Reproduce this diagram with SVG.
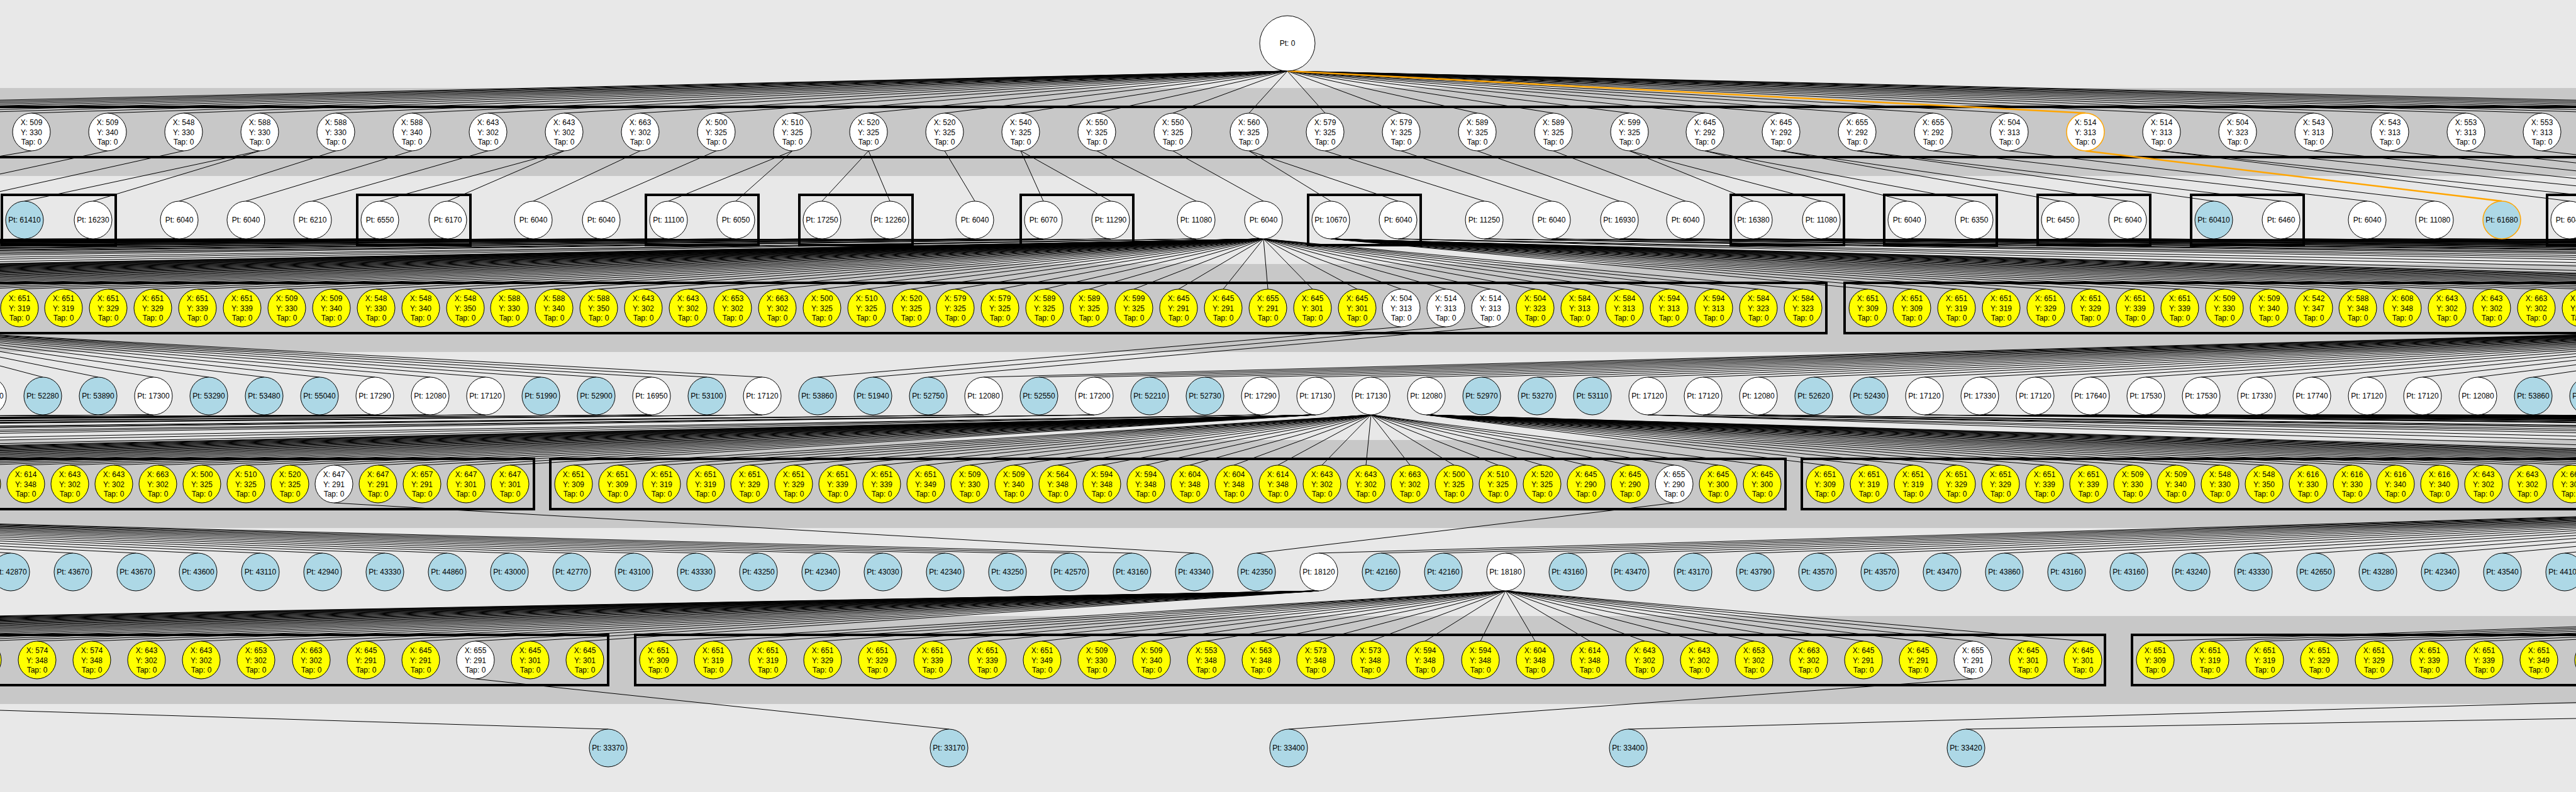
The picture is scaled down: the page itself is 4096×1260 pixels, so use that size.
<svg xmlns="http://www.w3.org/2000/svg" width="4096" height="1260" viewBox="0 0 4096 1260">
<style>
text{font-family:"Liberation Sans",Arial,sans-serif;font-size:12px;text-anchor:middle;fill:#000}
circle{stroke:#000;stroke-width:1}
.w circle{fill:#fff}.y circle{fill:#ff0}.b circle{fill:#add8e6}
.o circle{stroke:#ffa500;stroke-width:1.5}
#edges path{fill:none;stroke:#000;stroke-width:1}
#edges path.or{stroke:#ffa500;stroke-width:2.5}
#clusters rect{fill:none;stroke:#000;stroke-width:4}
.band{fill:#c8c8c8}
</style>
<rect id="bg" x="0" y="0" width="4096" height="1260" fill="#e8e8e8"/>
<g id="bands">
<rect class="band" x="0" y="140" width="4096" height="140"/>
<rect class="band" x="0" y="420" width="4096" height="140"/>
<rect class="band" x="0" y="700" width="4096" height="140"/>
<rect class="band" x="0" y="980" width="4096" height="140"/>
</g>
<g id="clusters">
<rect x="-1000" y="170" width="6200" height="80"/>
<rect x="3" y="310" width="181" height="80"/>
<rect x="568" y="310" width="180" height="80"/>
<rect x="1027" y="310" width="179" height="80"/>
<rect x="1271" y="310" width="180" height="80"/>
<rect x="1623" y="310" width="179" height="80"/>
<rect x="2080" y="310" width="179" height="80"/>
<rect x="2752" y="310" width="180" height="80"/>
<rect x="2996" y="310" width="179" height="80"/>
<rect x="3240" y="310" width="179" height="80"/>
<rect x="3484" y="310" width="179" height="80"/>
<rect x="4050" y="310" width="180" height="80"/>
<rect x="-2140" y="450" width="5044" height="80"/>
<rect x="2933" y="450" width="2130" height="80"/>
<rect x="-1400" y="730" width="2249" height="80"/>
<rect x="875" y="730" width="1964" height="80"/>
<rect x="2865" y="730" width="2170" height="80"/>
<rect x="-2160" y="1010" width="3127" height="80"/>
<rect x="1010" y="1010" width="2337" height="80"/>
<rect x="3390" y="1010" width="1800" height="80"/>
</g>
<g id="edges">
<path d="M2047 113L-917 180M2047 113L-796 180M2047 113L-675 180M2047 113L-554 180M2047 113L-433 180M2047 113L-312 180M2047 113L-191 180M2047 113L-71 180M2047 113L50 180M2047 113L171 180M2047 113L292 180M2047 113L413 180M2047 113L534 180M2047 113L655 180M2047 113L776 180M2047 113L897 180M2047 113L1018 180M2047 113L1139 180M2047 113L1260 180M2047 113L1381 180M2047 113L1502 180M2047 113L1623 180M2047 113L1744 180M2047 113L1865 180M2047 113L1986 180M2047 113L2107 180M2047 113L2228 180M2047 113L2349 180M2047 113L2470 180M2047 113L2591 180M2047 113L2711 180M2047 113L2832 180M2047 113L2953 180M2047 113L3074 180M2047 113L3195 180M2047 113L3437 180M2047 113L3558 180M2047 113L3679 180M2047 113L3800 180M2047 113L3921 180M2047 113L4042 180M2047 113L4163 180M2047 113L4284 180M2047 113L4405 180M2047 113L4526 180M2047 113L4647 180M2047 113L4768 180M2047 113L4889 180M2047 113L5010 180"/>
<path d="M50 240L-420 320M171 240L-200 320M292 240L-69 320M413 240L39 320M413 240L148 320M534 240L285 320M655 240L391 320M776 240L497 320M897 240L604 320M897 240L712 320M1018 240L848 320M1139 240L956 320M1260 240L1063 320M1260 240L1170 320M1381 240L1307 320M1381 240L1415 320M1502 240L1550 320M1623 240L1659 320M1623 240L1766 320M1744 240L1902 320M1865 240L2009 320M1986 240L2116 320M1986 240L2223 320M2107 240L2360 320M2228 240L2467 320M2349 240L2575 320M2470 240L2680 320M2591 240L2788 320M2591 240L2896 320M2711 240L3032 320M2711 240L3139 320M2832 240L3276 320M2832 240L3383 320M2953 240L3520 320M2953 240L3627 320M3074 240L3764 320M3195 240L3871 320M3437 240L4086 320M3437 240L4194 320M3558 240L4331 320M3679 240L4437 320M3800 240L4545 320M3921 240L4652 320M4042 240L4760 320"/>
<path class="or" d="M2047 113L3316 180M3316 240L3978 320"/>
<path d="M2009 380L-2097 460M2009 380L-2026 460M2009 380L-1955 460M2009 380L-1884 460M2009 380L-1813 460M2009 380L-1742 460M2009 380L-1671 460M2009 380L-1600 460M2009 380L-1529 460M2009 380L-1459 460M2009 380L-1388 460M2009 380L-1317 460M2009 380L-1246 460M2009 380L-1175 460M2009 380L-1104 460M2009 380L-1033 460M2009 380L-962 460M2009 380L-891 460M2009 380L-820 460M2009 380L-749 460M2009 380L-679 460M2009 380L-608 460M2009 380L-537 460M2009 380L-466 460M2009 380L-395 460M2009 380L-324 460M2009 380L-253 460M2009 380L-182 460M2009 380L-111 460M2009 380L-40 460M2009 380L31 460M2009 380L101 460M2009 380L172 460M2009 380L243 460M2009 380L314 460M2009 380L385 460M2009 380L456 460M2009 380L527 460M2009 380L598 460M2009 380L669 460M2009 380L740 460M2009 380L810 460M2009 380L881 460M2009 380L952 460M2009 380L1023 460M2009 380L1094 460M2009 380L1165 460M2009 380L1236 460M2009 380L1307 460M2009 380L1378 460M2009 380L1449 460M2009 380L1519 460M2009 380L1590 460M2009 380L1661 460M2009 380L1732 460M2009 380L1803 460M2009 380L1874 460M2009 380L1945 460M2009 380L2016 460M2009 380L2087 460M2009 380L2158 460M2009 380L2228 460M2009 380L2299 460M2009 380L2370 460M2009 380L2441 460M2009 380L2512 460M2009 380L2583 460M2009 380L2654 460M2009 380L2725 460M2009 380L2796 460M2009 380L2867 460"/>
<path d="M2116 380L2970 460M2116 380L3040 460M2116 380L3111 460M2116 380L3182 460M2116 380L3253 460M2116 380L3324 460M2116 380L3395 460M2116 380L3466 460M2116 380L3537 460M2116 380L3608 460M2116 380L3679 460M2116 380L3749 460M2116 380L3820 460M2116 380L3891 460M2116 380L3962 460M2116 380L4033 460M2116 380L4104 460M2116 380L4175 460M2116 380L4246 460M2116 380L4317 460M2116 380L4387 460M2116 380L4458 460M2116 380L4529 460M2116 380L4600 460M2116 380L4671 460M2116 380L4742 460M2116 380L4813 460M2116 380L4884 460M2116 380L4955 460M2116 380L5025 460"/>
<path d="M1902 380L-2300 460M1902 380L-2800 460M1902 380L-3300 460M1766 380L-3700 460M1766 380L-4200 460M1766 380L-4700 460M1659 380L-5100 460M1659 380L-5600 460M1659 380L-6100 460M1550 380L-6500 460M1550 380L-7000 460M1550 380L-7500 460M1415 380L-7900 460M1415 380L-8400 460M1415 380L-8900 460M1307 380L-9300 460M1307 380L-9800 460M1307 380L-10300 460M1170 380L-10700 460M1170 380L-11200 460M1170 380L-11700 460M1063 380L-12100 460M1063 380L-12600 460M1063 380L-13100 460M956 380L-13500 460M956 380L-14000 460M956 380L-14500 460M848 380L-14900 460M848 380L-15400 460M848 380L-15900 460M712 380L-16300 460M712 380L-16800 460M712 380L-17300 460M604 380L-17700 460M604 380L-18200 460M604 380L-18700 460M497 380L-19100 460M497 380L-19600 460M497 380L-20100 460M391 380L-20500 460M391 380L-21000 460M391 380L-21500 460M285 380L-21900 460M285 380L-22400 460M285 380L-22900 460M148 380L-23300 460M148 380L-23800 460M148 380L-24300 460"/>
<path d="M2223 380L5200 460M2223 380L5700 460M2223 380L6200 460M2360 380L6600 460M2360 380L7100 460M2360 380L7600 460M2467 380L8000 460M2467 380L8500 460M2467 380L9000 460M2575 380L9400 460M2575 380L9900 460M2575 380L10400 460M2680 380L10800 460M2680 380L11300 460M2680 380L11800 460M2788 380L12200 460M2788 380L12700 460M2788 380L13200 460M2896 380L13600 460M2896 380L14100 460M2896 380L14600 460M3032 380L15000 460M3032 380L15500 460M3032 380L16000 460M3139 380L16400 460M3139 380L16900 460M3139 380L17400 460M3276 380L17800 460M3276 380L18300 460M3276 380L18800 460M3383 380L19200 460M3383 380L19700 460M3383 380L20200 460M3627 380L20600 460M3627 380L21100 460M3627 380L21600 460M3764 380L22000 460M3764 380L22500 460M3764 380L23000 460M3871 380L23400 460M3871 380L23900 460M3871 380L24400 460M4086 380L24800 460M4086 380L25300 460M4086 380L25800 460"/>
<path d="M-235 520L-20 600M-235 520L68 600M-235 520L156 600M-235 520L244 600M-235 520L332 600M-235 520L420 600M-235 520L508 600M-235 520L596 600M-235 520L684 600M-235 520L772 600M-235 520L860 600M-235 520L948 600M-235 520L1036 600M-235 520L1124 600M-235 520L1212 600M2228 520L1300 600M2299 520L1388 600M2370 520L1476 600"/>
<path d="M4575 520L1564 600M4575 520L1652 600M4575 520L1740 600M4575 520L1828 600M4575 520L1916 600M4575 520L2004 600M4575 520L2092 600M4575 520L2180 600M4575 520L2268 600M4575 520L2356 600M4575 520L2444 600M4575 520L2532 600M4575 520L2620 600M4575 520L2708 600M4575 520L2796 600M4575 520L2884 600M4575 520L2972 600M4575 520L3060 600M4575 520L3148 600M4575 520L3236 600M4575 520L3324 600M4575 520L3412 600M4575 520L3500 600M4575 520L3588 600M4575 520L3676 600M4575 520L3764 600M4575 520L3852 600M4575 520L3940 600M4575 520L4028 600M4575 520L4116 600"/>
<path d="M2092 660L-1359 740M2092 660L-1289 740M2092 660L-1219 740M2092 660L-1149 740M2092 660L-1079 740M2092 660L-1009 740M2092 660L-939 740M2092 660L-869 740M2092 660L-799 740M2092 660L-729 740M2092 660L-659 740M2092 660L-589 740M2092 660L-519 740M2092 660L-449 740M2092 660L-379 740M2092 660L-309 740M2092 660L-239 740M2092 660L-169 740M2092 660L-99 740M2092 660L-29 740M2092 660L41 740M2092 660L111 740M2092 660L181 740M2092 660L251 740M2092 660L321 740M2092 660L391 740M2092 660L461 740M2092 660L531 740M2092 660L601 740M2092 660L671 740M2092 660L741 740M2092 660L811 740"/>
<path d="M2180 660L912 740M2180 660L982 740M2180 660L1052 740M2180 660L1122 740M2180 660L1192 740M2180 660L1262 740M2180 660L1332 740M2180 660L1402 740M2180 660L1472 740M2180 660L1542 740M2180 660L1612 740M2180 660L1682 740M2180 660L1752 740M2180 660L1822 740M2180 660L1892 740M2180 660L1962 740M2180 660L2032 740M2180 660L2102 740M2180 660L2172 740M2180 660L2242 740M2180 660L2312 740M2180 660L2382 740M2180 660L2452 740M2180 660L2522 740M2180 660L2592 740M2180 660L2662 740M2180 660L2732 740M2180 660L2802 740"/>
<path d="M2268 660L2902 740M2268 660L2972 740M2268 660L3042 740M2268 660L3111 740M2268 660L3181 740M2268 660L3251 740M2268 660L3321 740M2268 660L3391 740M2268 660L3460 740M2268 660L3530 740M2268 660L3600 740M2268 660L3670 740M2268 660L3740 740M2268 660L3809 740M2268 660L3879 740M2268 660L3949 740M2268 660L4019 740M2268 660L4089 740M2268 660L4158 740M2268 660L4228 740M2268 660L4298 740M2268 660L4368 740M2268 660L4438 740M2268 660L4507 740M2268 660L4577 740M2268 660L4647 740M2268 660L4717 740M2268 660L4787 740M2268 660L4856 740M2268 660L4926 740M2268 660L4996 740"/>
<path d="M2004 660L-1500 740M2004 660L-2000 740M2004 660L-2500 740M1740 660L-3000 740M1740 660L-3500 740M1740 660L-4000 740M1564 660L-4500 740M1564 660L-5000 740M1564 660L-5500 740M1212 660L-6000 740M1212 660L-6500 740M1212 660L-7000 740M1036 660L-7500 740M1036 660L-8000 740M1036 660L-8500 740M772 660L-9000 740M772 660L-9500 740M772 660L-10000 740M684 660L-10500 740M684 660L-11000 740M684 660L-11500 740M596 660L-12000 740M596 660L-12500 740M596 660L-13000 740M244 660L-13500 740M244 660L-14000 740M244 660L-14500 740"/>
<path d="M2620 660L5100 740M2620 660L5600 740M2620 660L6100 740M2708 660L6600 740M2708 660L7100 740M2708 660L7600 740M2796 660L8100 740M2796 660L8600 740M2796 660L9100 740M3060 660L9600 740M3060 660L10100 740M3060 660L10600 740M3148 660L11100 740M3148 660L11600 740M3148 660L12100 740M3236 660L12600 740M3236 660L13100 740M3236 660L13600 740M3324 660L14100 740M3324 660L14600 740M3324 660L15100 740M3412 660L15600 740M3412 660L16100 740M3412 660L16600 740M3500 660L17100 740M3500 660L17600 740M3500 660L18100 740M3588 660L18600 740M3588 660L19100 740M3588 660L19600 740M3676 660L20100 740M3676 660L20600 740M3676 660L21100 740M3764 660L21600 740M3764 660L22100 740M3764 660L22600 740M3852 660L23100 740M3852 660L23600 740M3852 660L24100 740M3940 660L24600 740M3940 660L25100 740M3940 660L25600 740"/>
<path d="M-1300 800L17 880M-1300 800L116 880M-1300 800L216 880M-1300 800L315 880M-1300 800L414 880M-1300 800L513 880M-1300 800L612 880M-1300 800L711 880M-1300 800L810 880M-1300 800L909 880M-1300 800L1008 880M-1300 800L1107 880M-1300 800L1206 880M-1300 800L1305 880M-1300 800L1404 880M-1300 800L1503 880M-1300 800L1602 880M-1300 800L1701 880M-1300 800L1800 880M531 800L1899 880M2662 800L1998 880"/>
<path d="M4854 800L2097 880M4854 800L2196 880M4854 800L2295 880M4854 800L2394 880M4854 800L2493 880M4854 800L2592 880M4854 800L2692 880M4854 800L2791 880M4854 800L2890 880M4854 800L2989 880M4854 800L3088 880M4854 800L3187 880M4854 800L3286 880M4854 800L3385 880M4854 800L3484 880M4854 800L3583 880M4854 800L3682 880M4854 800L3781 880M4854 800L3880 880M4854 800L3979 880M4854 800L4078 880"/>
<path d="M2097 940L-2118 1020M2097 940L-2031 1020M2097 940L-1944 1020M2097 940L-1857 1020M2097 940L-1770 1020M2097 940L-1683 1020M2097 940L-1596 1020M2097 940L-1509 1020M2097 940L-1422 1020M2097 940L-1335 1020M2097 940L-1248 1020M2097 940L-1160 1020M2097 940L-1073 1020M2097 940L-986 1020M2097 940L-899 1020M2097 940L-812 1020M2097 940L-725 1020M2097 940L-638 1020M2097 940L-551 1020M2097 940L-464 1020M2097 940L-377 1020M2097 940L-289 1020M2097 940L-202 1020M2097 940L-115 1020M2097 940L-28 1020M2097 940L59 1020M2097 940L146 1020M2097 940L233 1020M2097 940L320 1020M2097 940L407 1020M2097 940L495 1020M2097 940L582 1020M2097 940L669 1020M2097 940L756 1020M2097 940L843 1020M2097 940L930 1020"/>
<path d="M2394 940L1047 1020M2394 940L1134 1020M2394 940L1221 1020M2394 940L1308 1020M2394 940L1395 1020M2394 940L1483 1020M2394 940L1570 1020M2394 940L1657 1020M2394 940L1744 1020M2394 940L1831 1020M2394 940L1918 1020M2394 940L2005 1020M2394 940L2092 1020M2394 940L2179 1020M2394 940L2266 1020M2394 940L2354 1020M2394 940L2441 1020M2394 940L2528 1020M2394 940L2615 1020M2394 940L2702 1020M2394 940L2789 1020M2394 940L2876 1020M2394 940L2963 1020M2394 940L3050 1020M2394 940L3137 1020M2394 940L3225 1020M2394 940L3312 1020"/>
<path d="M5760 940L3427 1020M5760 940L3514 1020M5760 940L3601 1020M5760 940L3688 1020M5760 940L3775 1020M5760 940L3863 1020M5760 940L3950 1020M5760 940L4037 1020M5760 940L4124 1020"/>
<path d="M-1613 1080L967 1160M756 1080L1509 1160M3137 1080L2049 1160M5440 1080L2589 1160M7700 1080L3126 1160"/>
</g>
<g id="nodes">
<g id="root" class="w" transform="translate(2047 69)"><circle r="44"/><text y="4.3">Pt: 0</text></g>
<g id="r1-0" class="w" transform="translate(50 210)"><circle r="30"/><text y="-11">X: 509</text><text y="4.5">Y: 330</text><text y="20">Tap: 0</text></g>
<g id="r1-1" class="w" transform="translate(171 210)"><circle r="30"/><text y="-11">X: 509</text><text y="4.5">Y: 340</text><text y="20">Tap: 0</text></g>
<g id="r1-2" class="w" transform="translate(292 210)"><circle r="30"/><text y="-11">X: 548</text><text y="4.5">Y: 330</text><text y="20">Tap: 0</text></g>
<g id="r1-3" class="w" transform="translate(413 210)"><circle r="30"/><text y="-11">X: 588</text><text y="4.5">Y: 330</text><text y="20">Tap: 0</text></g>
<g id="r1-4" class="w" transform="translate(534 210)"><circle r="30"/><text y="-11">X: 588</text><text y="4.5">Y: 330</text><text y="20">Tap: 0</text></g>
<g id="r1-5" class="w" transform="translate(655 210)"><circle r="30"/><text y="-11">X: 588</text><text y="4.5">Y: 340</text><text y="20">Tap: 0</text></g>
<g id="r1-6" class="w" transform="translate(776 210)"><circle r="30"/><text y="-11">X: 643</text><text y="4.5">Y: 302</text><text y="20">Tap: 0</text></g>
<g id="r1-7" class="w" transform="translate(897 210)"><circle r="30"/><text y="-11">X: 643</text><text y="4.5">Y: 302</text><text y="20">Tap: 0</text></g>
<g id="r1-8" class="w" transform="translate(1018 210)"><circle r="30"/><text y="-11">X: 663</text><text y="4.5">Y: 302</text><text y="20">Tap: 0</text></g>
<g id="r1-9" class="w" transform="translate(1139 210)"><circle r="30"/><text y="-11">X: 500</text><text y="4.5">Y: 325</text><text y="20">Tap: 0</text></g>
<g id="r1-10" class="w" transform="translate(1260 210)"><circle r="30"/><text y="-11">X: 510</text><text y="4.5">Y: 325</text><text y="20">Tap: 0</text></g>
<g id="r1-11" class="w" transform="translate(1381 210)"><circle r="30"/><text y="-11">X: 520</text><text y="4.5">Y: 325</text><text y="20">Tap: 0</text></g>
<g id="r1-12" class="w" transform="translate(1502 210)"><circle r="30"/><text y="-11">X: 520</text><text y="4.5">Y: 325</text><text y="20">Tap: 0</text></g>
<g id="r1-13" class="w" transform="translate(1623 210)"><circle r="30"/><text y="-11">X: 540</text><text y="4.5">Y: 325</text><text y="20">Tap: 0</text></g>
<g id="r1-14" class="w" transform="translate(1744 210)"><circle r="30"/><text y="-11">X: 550</text><text y="4.5">Y: 325</text><text y="20">Tap: 0</text></g>
<g id="r1-15" class="w" transform="translate(1865 210)"><circle r="30"/><text y="-11">X: 550</text><text y="4.5">Y: 325</text><text y="20">Tap: 0</text></g>
<g id="r1-16" class="w" transform="translate(1986 210)"><circle r="30"/><text y="-11">X: 560</text><text y="4.5">Y: 325</text><text y="20">Tap: 0</text></g>
<g id="r1-17" class="w" transform="translate(2107 210)"><circle r="30"/><text y="-11">X: 579</text><text y="4.5">Y: 325</text><text y="20">Tap: 0</text></g>
<g id="r1-18" class="w" transform="translate(2228 210)"><circle r="30"/><text y="-11">X: 579</text><text y="4.5">Y: 325</text><text y="20">Tap: 0</text></g>
<g id="r1-19" class="w" transform="translate(2349 210)"><circle r="30"/><text y="-11">X: 589</text><text y="4.5">Y: 325</text><text y="20">Tap: 0</text></g>
<g id="r1-20" class="w" transform="translate(2470 210)"><circle r="30"/><text y="-11">X: 589</text><text y="4.5">Y: 325</text><text y="20">Tap: 0</text></g>
<g id="r1-21" class="w" transform="translate(2591 210)"><circle r="30"/><text y="-11">X: 599</text><text y="4.5">Y: 325</text><text y="20">Tap: 0</text></g>
<g id="r1-22" class="w" transform="translate(2711 210)"><circle r="30"/><text y="-11">X: 645</text><text y="4.5">Y: 292</text><text y="20">Tap: 0</text></g>
<g id="r1-23" class="w" transform="translate(2832 210)"><circle r="30"/><text y="-11">X: 645</text><text y="4.5">Y: 292</text><text y="20">Tap: 0</text></g>
<g id="r1-24" class="w" transform="translate(2953 210)"><circle r="30"/><text y="-11">X: 655</text><text y="4.5">Y: 292</text><text y="20">Tap: 0</text></g>
<g id="r1-25" class="w" transform="translate(3074 210)"><circle r="30"/><text y="-11">X: 655</text><text y="4.5">Y: 292</text><text y="20">Tap: 0</text></g>
<g id="r1-26" class="w" transform="translate(3195 210)"><circle r="30"/><text y="-11">X: 504</text><text y="4.5">Y: 313</text><text y="20">Tap: 0</text></g>
<g id="r1-27" class="w o" transform="translate(3316 210)"><circle r="30"/><text y="-11">X: 514</text><text y="4.5">Y: 313</text><text y="20">Tap: 0</text></g>
<g id="r1-28" class="w" transform="translate(3437 210)"><circle r="30"/><text y="-11">X: 514</text><text y="4.5">Y: 313</text><text y="20">Tap: 0</text></g>
<g id="r1-29" class="w" transform="translate(3558 210)"><circle r="30"/><text y="-11">X: 504</text><text y="4.5">Y: 323</text><text y="20">Tap: 0</text></g>
<g id="r1-30" class="w" transform="translate(3679 210)"><circle r="30"/><text y="-11">X: 543</text><text y="4.5">Y: 313</text><text y="20">Tap: 0</text></g>
<g id="r1-31" class="w" transform="translate(3800 210)"><circle r="30"/><text y="-11">X: 543</text><text y="4.5">Y: 313</text><text y="20">Tap: 0</text></g>
<g id="r1-32" class="w" transform="translate(3921 210)"><circle r="30"/><text y="-11">X: 553</text><text y="4.5">Y: 313</text><text y="20">Tap: 0</text></g>
<g id="r1-33" class="w" transform="translate(4042 210)"><circle r="30"/><text y="-11">X: 553</text><text y="4.5">Y: 313</text><text y="20">Tap: 0</text></g>
<g id="r2-0" class="b" transform="translate(39 350)"><circle r="30"/><text y="4.3">Pt: 61410</text></g>
<g id="r2-1" class="w" transform="translate(148 350)"><circle r="30"/><text y="4.3">Pt: 16230</text></g>
<g id="r2-2" class="w" transform="translate(285 350)"><circle r="30"/><text y="4.3">Pt: 6040</text></g>
<g id="r2-3" class="w" transform="translate(391 350)"><circle r="30"/><text y="4.3">Pt: 6040</text></g>
<g id="r2-4" class="w" transform="translate(497 350)"><circle r="30"/><text y="4.3">Pt: 6210</text></g>
<g id="r2-5" class="w" transform="translate(604 350)"><circle r="30"/><text y="4.3">Pt: 6550</text></g>
<g id="r2-6" class="w" transform="translate(712 350)"><circle r="30"/><text y="4.3">Pt: 6170</text></g>
<g id="r2-7" class="w" transform="translate(848 350)"><circle r="30"/><text y="4.3">Pt: 6040</text></g>
<g id="r2-8" class="w" transform="translate(956 350)"><circle r="30"/><text y="4.3">Pt: 6040</text></g>
<g id="r2-9" class="w" transform="translate(1063 350)"><circle r="30"/><text y="4.3">Pt: 11100</text></g>
<g id="r2-10" class="w" transform="translate(1170 350)"><circle r="30"/><text y="4.3">Pt: 6050</text></g>
<g id="r2-11" class="w" transform="translate(1307 350)"><circle r="30"/><text y="4.3">Pt: 17250</text></g>
<g id="r2-12" class="w" transform="translate(1415 350)"><circle r="30"/><text y="4.3">Pt: 12260</text></g>
<g id="r2-13" class="w" transform="translate(1550 350)"><circle r="30"/><text y="4.3">Pt: 6040</text></g>
<g id="r2-14" class="w" transform="translate(1659 350)"><circle r="30"/><text y="4.3">Pt: 6070</text></g>
<g id="r2-15" class="w" transform="translate(1766 350)"><circle r="30"/><text y="4.3">Pt: 11290</text></g>
<g id="r2-16" class="w" transform="translate(1902 350)"><circle r="30"/><text y="4.3">Pt: 11080</text></g>
<g id="r2-17" class="w" transform="translate(2009 350)"><circle r="30"/><text y="4.3">Pt: 6040</text></g>
<g id="r2-18" class="w" transform="translate(2116 350)"><circle r="30"/><text y="4.3">Pt: 10670</text></g>
<g id="r2-19" class="w" transform="translate(2223 350)"><circle r="30"/><text y="4.3">Pt: 6040</text></g>
<g id="r2-20" class="w" transform="translate(2360 350)"><circle r="30"/><text y="4.3">Pt: 11250</text></g>
<g id="r2-21" class="w" transform="translate(2467 350)"><circle r="30"/><text y="4.3">Pt: 6040</text></g>
<g id="r2-22" class="w" transform="translate(2575 350)"><circle r="30"/><text y="4.3">Pt: 16930</text></g>
<g id="r2-23" class="w" transform="translate(2680 350)"><circle r="30"/><text y="4.3">Pt: 6040</text></g>
<g id="r2-24" class="w" transform="translate(2788 350)"><circle r="30"/><text y="4.3">Pt: 16380</text></g>
<g id="r2-25" class="w" transform="translate(2896 350)"><circle r="30"/><text y="4.3">Pt: 11080</text></g>
<g id="r2-26" class="w" transform="translate(3032 350)"><circle r="30"/><text y="4.3">Pt: 6040</text></g>
<g id="r2-27" class="w" transform="translate(3139 350)"><circle r="30"/><text y="4.3">Pt: 6350</text></g>
<g id="r2-28" class="w" transform="translate(3276 350)"><circle r="30"/><text y="4.3">Pt: 6450</text></g>
<g id="r2-29" class="w" transform="translate(3383 350)"><circle r="30"/><text y="4.3">Pt: 6040</text></g>
<g id="r2-30" class="b" transform="translate(3520 350)"><circle r="30"/><text y="4.3">Pt: 60410</text></g>
<g id="r2-31" class="w" transform="translate(3627 350)"><circle r="30"/><text y="4.3">Pt: 6460</text></g>
<g id="r2-32" class="w" transform="translate(3764 350)"><circle r="30"/><text y="4.3">Pt: 6040</text></g>
<g id="r2-33" class="w" transform="translate(3871 350)"><circle r="30"/><text y="4.3">Pt: 11080</text></g>
<g id="r2-34" class="b o" transform="translate(3978 350)"><circle r="30"/><text y="4.3">Pt: 61680</text></g>
<g id="r2-35" class="w" transform="translate(4086 350)"><circle r="30"/><text y="4.3">Pt: 6040</text></g>
<g id="r3-0" class="y" transform="translate(31 490)"><circle r="30"/><text y="-11">X: 651</text><text y="4.5">Y: 319</text><text y="20">Tap: 0</text></g>
<g id="r3-1" class="y" transform="translate(101 490)"><circle r="30"/><text y="-11">X: 651</text><text y="4.5">Y: 319</text><text y="20">Tap: 0</text></g>
<g id="r3-2" class="y" transform="translate(172 490)"><circle r="30"/><text y="-11">X: 651</text><text y="4.5">Y: 329</text><text y="20">Tap: 0</text></g>
<g id="r3-3" class="y" transform="translate(243 490)"><circle r="30"/><text y="-11">X: 651</text><text y="4.5">Y: 329</text><text y="20">Tap: 0</text></g>
<g id="r3-4" class="y" transform="translate(314 490)"><circle r="30"/><text y="-11">X: 651</text><text y="4.5">Y: 339</text><text y="20">Tap: 0</text></g>
<g id="r3-5" class="y" transform="translate(385 490)"><circle r="30"/><text y="-11">X: 651</text><text y="4.5">Y: 339</text><text y="20">Tap: 0</text></g>
<g id="r3-6" class="y" transform="translate(456 490)"><circle r="30"/><text y="-11">X: 509</text><text y="4.5">Y: 330</text><text y="20">Tap: 0</text></g>
<g id="r3-7" class="y" transform="translate(527 490)"><circle r="30"/><text y="-11">X: 509</text><text y="4.5">Y: 340</text><text y="20">Tap: 0</text></g>
<g id="r3-8" class="y" transform="translate(598 490)"><circle r="30"/><text y="-11">X: 548</text><text y="4.5">Y: 330</text><text y="20">Tap: 0</text></g>
<g id="r3-9" class="y" transform="translate(669 490)"><circle r="30"/><text y="-11">X: 548</text><text y="4.5">Y: 340</text><text y="20">Tap: 0</text></g>
<g id="r3-10" class="y" transform="translate(740 490)"><circle r="30"/><text y="-11">X: 548</text><text y="4.5">Y: 350</text><text y="20">Tap: 0</text></g>
<g id="r3-11" class="y" transform="translate(810 490)"><circle r="30"/><text y="-11">X: 588</text><text y="4.5">Y: 330</text><text y="20">Tap: 0</text></g>
<g id="r3-12" class="y" transform="translate(881 490)"><circle r="30"/><text y="-11">X: 588</text><text y="4.5">Y: 340</text><text y="20">Tap: 0</text></g>
<g id="r3-13" class="y" transform="translate(952 490)"><circle r="30"/><text y="-11">X: 588</text><text y="4.5">Y: 350</text><text y="20">Tap: 0</text></g>
<g id="r3-14" class="y" transform="translate(1023 490)"><circle r="30"/><text y="-11">X: 643</text><text y="4.5">Y: 302</text><text y="20">Tap: 0</text></g>
<g id="r3-15" class="y" transform="translate(1094 490)"><circle r="30"/><text y="-11">X: 643</text><text y="4.5">Y: 302</text><text y="20">Tap: 0</text></g>
<g id="r3-16" class="y" transform="translate(1165 490)"><circle r="30"/><text y="-11">X: 653</text><text y="4.5">Y: 302</text><text y="20">Tap: 0</text></g>
<g id="r3-17" class="y" transform="translate(1236 490)"><circle r="30"/><text y="-11">X: 663</text><text y="4.5">Y: 302</text><text y="20">Tap: 0</text></g>
<g id="r3-18" class="y" transform="translate(1307 490)"><circle r="30"/><text y="-11">X: 500</text><text y="4.5">Y: 325</text><text y="20">Tap: 0</text></g>
<g id="r3-19" class="y" transform="translate(1378 490)"><circle r="30"/><text y="-11">X: 510</text><text y="4.5">Y: 325</text><text y="20">Tap: 0</text></g>
<g id="r3-20" class="y" transform="translate(1449 490)"><circle r="30"/><text y="-11">X: 520</text><text y="4.5">Y: 325</text><text y="20">Tap: 0</text></g>
<g id="r3-21" class="y" transform="translate(1519 490)"><circle r="30"/><text y="-11">X: 579</text><text y="4.5">Y: 325</text><text y="20">Tap: 0</text></g>
<g id="r3-22" class="y" transform="translate(1590 490)"><circle r="30"/><text y="-11">X: 579</text><text y="4.5">Y: 325</text><text y="20">Tap: 0</text></g>
<g id="r3-23" class="y" transform="translate(1661 490)"><circle r="30"/><text y="-11">X: 589</text><text y="4.5">Y: 325</text><text y="20">Tap: 0</text></g>
<g id="r3-24" class="y" transform="translate(1732 490)"><circle r="30"/><text y="-11">X: 589</text><text y="4.5">Y: 325</text><text y="20">Tap: 0</text></g>
<g id="r3-25" class="y" transform="translate(1803 490)"><circle r="30"/><text y="-11">X: 599</text><text y="4.5">Y: 325</text><text y="20">Tap: 0</text></g>
<g id="r3-26" class="y" transform="translate(1874 490)"><circle r="30"/><text y="-11">X: 645</text><text y="4.5">Y: 291</text><text y="20">Tap: 0</text></g>
<g id="r3-27" class="y" transform="translate(1945 490)"><circle r="30"/><text y="-11">X: 645</text><text y="4.5">Y: 291</text><text y="20">Tap: 0</text></g>
<g id="r3-28" class="y" transform="translate(2016 490)"><circle r="30"/><text y="-11">X: 655</text><text y="4.5">Y: 291</text><text y="20">Tap: 0</text></g>
<g id="r3-29" class="y" transform="translate(2087 490)"><circle r="30"/><text y="-11">X: 645</text><text y="4.5">Y: 301</text><text y="20">Tap: 0</text></g>
<g id="r3-30" class="y" transform="translate(2158 490)"><circle r="30"/><text y="-11">X: 645</text><text y="4.5">Y: 301</text><text y="20">Tap: 0</text></g>
<g id="r3-31" class="w" transform="translate(2228 490)"><circle r="30"/><text y="-11">X: 504</text><text y="4.5">Y: 313</text><text y="20">Tap: 0</text></g>
<g id="r3-32" class="w" transform="translate(2299 490)"><circle r="30"/><text y="-11">X: 514</text><text y="4.5">Y: 313</text><text y="20">Tap: 0</text></g>
<g id="r3-33" class="w" transform="translate(2370 490)"><circle r="30"/><text y="-11">X: 514</text><text y="4.5">Y: 313</text><text y="20">Tap: 0</text></g>
<g id="r3-34" class="y" transform="translate(2441 490)"><circle r="30"/><text y="-11">X: 504</text><text y="4.5">Y: 323</text><text y="20">Tap: 0</text></g>
<g id="r3-35" class="y" transform="translate(2512 490)"><circle r="30"/><text y="-11">X: 584</text><text y="4.5">Y: 313</text><text y="20">Tap: 0</text></g>
<g id="r3-36" class="y" transform="translate(2583 490)"><circle r="30"/><text y="-11">X: 584</text><text y="4.5">Y: 313</text><text y="20">Tap: 0</text></g>
<g id="r3-37" class="y" transform="translate(2654 490)"><circle r="30"/><text y="-11">X: 594</text><text y="4.5">Y: 313</text><text y="20">Tap: 0</text></g>
<g id="r3-38" class="y" transform="translate(2725 490)"><circle r="30"/><text y="-11">X: 594</text><text y="4.5">Y: 313</text><text y="20">Tap: 0</text></g>
<g id="r3-39" class="y" transform="translate(2796 490)"><circle r="30"/><text y="-11">X: 584</text><text y="4.5">Y: 323</text><text y="20">Tap: 0</text></g>
<g id="r3-40" class="y" transform="translate(2867 490)"><circle r="30"/><text y="-11">X: 584</text><text y="4.5">Y: 323</text><text y="20">Tap: 0</text></g>
<g id="r3-41" class="y" transform="translate(2970 490)"><circle r="30"/><text y="-11">X: 651</text><text y="4.5">Y: 309</text><text y="20">Tap: 0</text></g>
<g id="r3-42" class="y" transform="translate(3040 490)"><circle r="30"/><text y="-11">X: 651</text><text y="4.5">Y: 309</text><text y="20">Tap: 0</text></g>
<g id="r3-43" class="y" transform="translate(3111 490)"><circle r="30"/><text y="-11">X: 651</text><text y="4.5">Y: 319</text><text y="20">Tap: 0</text></g>
<g id="r3-44" class="y" transform="translate(3182 490)"><circle r="30"/><text y="-11">X: 651</text><text y="4.5">Y: 319</text><text y="20">Tap: 0</text></g>
<g id="r3-45" class="y" transform="translate(3253 490)"><circle r="30"/><text y="-11">X: 651</text><text y="4.5">Y: 329</text><text y="20">Tap: 0</text></g>
<g id="r3-46" class="y" transform="translate(3324 490)"><circle r="30"/><text y="-11">X: 651</text><text y="4.5">Y: 329</text><text y="20">Tap: 0</text></g>
<g id="r3-47" class="y" transform="translate(3395 490)"><circle r="30"/><text y="-11">X: 651</text><text y="4.5">Y: 339</text><text y="20">Tap: 0</text></g>
<g id="r3-48" class="y" transform="translate(3466 490)"><circle r="30"/><text y="-11">X: 651</text><text y="4.5">Y: 339</text><text y="20">Tap: 0</text></g>
<g id="r3-49" class="y" transform="translate(3537 490)"><circle r="30"/><text y="-11">X: 509</text><text y="4.5">Y: 330</text><text y="20">Tap: 0</text></g>
<g id="r3-50" class="y" transform="translate(3608 490)"><circle r="30"/><text y="-11">X: 509</text><text y="4.5">Y: 340</text><text y="20">Tap: 0</text></g>
<g id="r3-51" class="y" transform="translate(3679 490)"><circle r="30"/><text y="-11">X: 542</text><text y="4.5">Y: 347</text><text y="20">Tap: 0</text></g>
<g id="r3-52" class="y" transform="translate(3749 490)"><circle r="30"/><text y="-11">X: 588</text><text y="4.5">Y: 348</text><text y="20">Tap: 0</text></g>
<g id="r3-53" class="y" transform="translate(3820 490)"><circle r="30"/><text y="-11">X: 608</text><text y="4.5">Y: 348</text><text y="20">Tap: 0</text></g>
<g id="r3-54" class="y" transform="translate(3891 490)"><circle r="30"/><text y="-11">X: 643</text><text y="4.5">Y: 302</text><text y="20">Tap: 0</text></g>
<g id="r3-55" class="y" transform="translate(3962 490)"><circle r="30"/><text y="-11">X: 643</text><text y="4.5">Y: 302</text><text y="20">Tap: 0</text></g>
<g id="r3-56" class="y" transform="translate(4033 490)"><circle r="30"/><text y="-11">X: 663</text><text y="4.5">Y: 302</text><text y="20">Tap: 0</text></g>
<g id="r3-57" class="y" transform="translate(4104 490)"><circle r="30"/><text y="-11">X: 663</text><text y="4.5">Y: 302</text><text y="20">Tap: 0</text></g>
<g id="r4-0" class="w" transform="translate(-20 630)"><circle r="30"/><text y="4.3">Pt: 17120</text></g>
<g id="r4-1" class="b" transform="translate(68 630)"><circle r="30"/><text y="4.3">Pt: 52280</text></g>
<g id="r4-2" class="b" transform="translate(156 630)"><circle r="30"/><text y="4.3">Pt: 53890</text></g>
<g id="r4-3" class="w" transform="translate(244 630)"><circle r="30"/><text y="4.3">Pt: 17300</text></g>
<g id="r4-4" class="b" transform="translate(332 630)"><circle r="30"/><text y="4.3">Pt: 53290</text></g>
<g id="r4-5" class="b" transform="translate(420 630)"><circle r="30"/><text y="4.3">Pt: 53480</text></g>
<g id="r4-6" class="b" transform="translate(508 630)"><circle r="30"/><text y="4.3">Pt: 55040</text></g>
<g id="r4-7" class="w" transform="translate(596 630)"><circle r="30"/><text y="4.3">Pt: 17290</text></g>
<g id="r4-8" class="w" transform="translate(684 630)"><circle r="30"/><text y="4.3">Pt: 12080</text></g>
<g id="r4-9" class="w" transform="translate(772 630)"><circle r="30"/><text y="4.3">Pt: 17120</text></g>
<g id="r4-10" class="b" transform="translate(860 630)"><circle r="30"/><text y="4.3">Pt: 51990</text></g>
<g id="r4-11" class="b" transform="translate(948 630)"><circle r="30"/><text y="4.3">Pt: 52900</text></g>
<g id="r4-12" class="w" transform="translate(1036 630)"><circle r="30"/><text y="4.3">Pt: 16950</text></g>
<g id="r4-13" class="b" transform="translate(1124 630)"><circle r="30"/><text y="4.3">Pt: 53100</text></g>
<g id="r4-14" class="w" transform="translate(1212 630)"><circle r="30"/><text y="4.3">Pt: 17120</text></g>
<g id="r4-15" class="b" transform="translate(1300 630)"><circle r="30"/><text y="4.3">Pt: 53860</text></g>
<g id="r4-16" class="b" transform="translate(1388 630)"><circle r="30"/><text y="4.3">Pt: 51940</text></g>
<g id="r4-17" class="b" transform="translate(1476 630)"><circle r="30"/><text y="4.3">Pt: 52750</text></g>
<g id="r4-18" class="w" transform="translate(1564 630)"><circle r="30"/><text y="4.3">Pt: 12080</text></g>
<g id="r4-19" class="b" transform="translate(1652 630)"><circle r="30"/><text y="4.3">Pt: 52550</text></g>
<g id="r4-20" class="w" transform="translate(1740 630)"><circle r="30"/><text y="4.3">Pt: 17200</text></g>
<g id="r4-21" class="b" transform="translate(1828 630)"><circle r="30"/><text y="4.3">Pt: 52210</text></g>
<g id="r4-22" class="b" transform="translate(1916 630)"><circle r="30"/><text y="4.3">Pt: 52730</text></g>
<g id="r4-23" class="w" transform="translate(2004 630)"><circle r="30"/><text y="4.3">Pt: 17290</text></g>
<g id="r4-24" class="w" transform="translate(2092 630)"><circle r="30"/><text y="4.3">Pt: 17130</text></g>
<g id="r4-25" class="w" transform="translate(2180 630)"><circle r="30"/><text y="4.3">Pt: 17130</text></g>
<g id="r4-26" class="w" transform="translate(2268 630)"><circle r="30"/><text y="4.3">Pt: 12080</text></g>
<g id="r4-27" class="b" transform="translate(2356 630)"><circle r="30"/><text y="4.3">Pt: 52970</text></g>
<g id="r4-28" class="b" transform="translate(2444 630)"><circle r="30"/><text y="4.3">Pt: 53270</text></g>
<g id="r4-29" class="b" transform="translate(2532 630)"><circle r="30"/><text y="4.3">Pt: 53110</text></g>
<g id="r4-30" class="w" transform="translate(2620 630)"><circle r="30"/><text y="4.3">Pt: 17120</text></g>
<g id="r4-31" class="w" transform="translate(2708 630)"><circle r="30"/><text y="4.3">Pt: 17120</text></g>
<g id="r4-32" class="w" transform="translate(2796 630)"><circle r="30"/><text y="4.3">Pt: 12080</text></g>
<g id="r4-33" class="b" transform="translate(2884 630)"><circle r="30"/><text y="4.3">Pt: 52620</text></g>
<g id="r4-34" class="b" transform="translate(2972 630)"><circle r="30"/><text y="4.3">Pt: 52430</text></g>
<g id="r4-35" class="w" transform="translate(3060 630)"><circle r="30"/><text y="4.3">Pt: 17120</text></g>
<g id="r4-36" class="w" transform="translate(3148 630)"><circle r="30"/><text y="4.3">Pt: 17330</text></g>
<g id="r4-37" class="w" transform="translate(3236 630)"><circle r="30"/><text y="4.3">Pt: 17120</text></g>
<g id="r4-38" class="w" transform="translate(3324 630)"><circle r="30"/><text y="4.3">Pt: 17640</text></g>
<g id="r4-39" class="w" transform="translate(3412 630)"><circle r="30"/><text y="4.3">Pt: 17530</text></g>
<g id="r4-40" class="w" transform="translate(3500 630)"><circle r="30"/><text y="4.3">Pt: 17530</text></g>
<g id="r4-41" class="w" transform="translate(3588 630)"><circle r="30"/><text y="4.3">Pt: 17330</text></g>
<g id="r4-42" class="w" transform="translate(3676 630)"><circle r="30"/><text y="4.3">Pt: 17740</text></g>
<g id="r4-43" class="w" transform="translate(3764 630)"><circle r="30"/><text y="4.3">Pt: 17120</text></g>
<g id="r4-44" class="w" transform="translate(3852 630)"><circle r="30"/><text y="4.3">Pt: 17120</text></g>
<g id="r4-45" class="w" transform="translate(3940 630)"><circle r="30"/><text y="4.3">Pt: 12080</text></g>
<g id="r4-46" class="b" transform="translate(4028 630)"><circle r="30"/><text y="4.3">Pt: 53860</text></g>
<g id="r4-47" class="b" transform="translate(4116 630)"><circle r="30"/><text y="4.3">Pt: 53270</text></g>
<g id="r5-a-1" class="y" transform="translate(-29 770)"><circle r="30"/><text y="-11">X: 604</text><text y="4.5">Y: 348</text><text y="20">Tap: 0</text></g>
<g id="r5-a0" class="y" transform="translate(41 770)"><circle r="30"/><text y="-11">X: 614</text><text y="4.5">Y: 348</text><text y="20">Tap: 0</text></g>
<g id="r5-a1" class="y" transform="translate(111 770)"><circle r="30"/><text y="-11">X: 643</text><text y="4.5">Y: 302</text><text y="20">Tap: 0</text></g>
<g id="r5-a2" class="y" transform="translate(181 770)"><circle r="30"/><text y="-11">X: 643</text><text y="4.5">Y: 302</text><text y="20">Tap: 0</text></g>
<g id="r5-a3" class="y" transform="translate(251 770)"><circle r="30"/><text y="-11">X: 663</text><text y="4.5">Y: 302</text><text y="20">Tap: 0</text></g>
<g id="r5-a4" class="y" transform="translate(321 770)"><circle r="30"/><text y="-11">X: 500</text><text y="4.5">Y: 325</text><text y="20">Tap: 0</text></g>
<g id="r5-a5" class="y" transform="translate(391 770)"><circle r="30"/><text y="-11">X: 510</text><text y="4.5">Y: 325</text><text y="20">Tap: 0</text></g>
<g id="r5-a6" class="y" transform="translate(461 770)"><circle r="30"/><text y="-11">X: 520</text><text y="4.5">Y: 325</text><text y="20">Tap: 0</text></g>
<g id="r5-a7" class="w" transform="translate(531 770)"><circle r="30"/><text y="-11">X: 647</text><text y="4.5">Y: 291</text><text y="20">Tap: 0</text></g>
<g id="r5-a8" class="y" transform="translate(601 770)"><circle r="30"/><text y="-11">X: 647</text><text y="4.5">Y: 291</text><text y="20">Tap: 0</text></g>
<g id="r5-a9" class="y" transform="translate(671 770)"><circle r="30"/><text y="-11">X: 657</text><text y="4.5">Y: 291</text><text y="20">Tap: 0</text></g>
<g id="r5-a10" class="y" transform="translate(741 770)"><circle r="30"/><text y="-11">X: 647</text><text y="4.5">Y: 301</text><text y="20">Tap: 0</text></g>
<g id="r5-a11" class="y" transform="translate(811 770)"><circle r="30"/><text y="-11">X: 647</text><text y="4.5">Y: 301</text><text y="20">Tap: 0</text></g>
<g id="r5-b0" class="y" transform="translate(912 770)"><circle r="30"/><text y="-11">X: 651</text><text y="4.5">Y: 309</text><text y="20">Tap: 0</text></g>
<g id="r5-b1" class="y" transform="translate(982 770)"><circle r="30"/><text y="-11">X: 651</text><text y="4.5">Y: 309</text><text y="20">Tap: 0</text></g>
<g id="r5-b2" class="y" transform="translate(1052 770)"><circle r="30"/><text y="-11">X: 651</text><text y="4.5">Y: 319</text><text y="20">Tap: 0</text></g>
<g id="r5-b3" class="y" transform="translate(1122 770)"><circle r="30"/><text y="-11">X: 651</text><text y="4.5">Y: 319</text><text y="20">Tap: 0</text></g>
<g id="r5-b4" class="y" transform="translate(1192 770)"><circle r="30"/><text y="-11">X: 651</text><text y="4.5">Y: 329</text><text y="20">Tap: 0</text></g>
<g id="r5-b5" class="y" transform="translate(1262 770)"><circle r="30"/><text y="-11">X: 651</text><text y="4.5">Y: 329</text><text y="20">Tap: 0</text></g>
<g id="r5-b6" class="y" transform="translate(1332 770)"><circle r="30"/><text y="-11">X: 651</text><text y="4.5">Y: 339</text><text y="20">Tap: 0</text></g>
<g id="r5-b7" class="y" transform="translate(1402 770)"><circle r="30"/><text y="-11">X: 651</text><text y="4.5">Y: 339</text><text y="20">Tap: 0</text></g>
<g id="r5-b8" class="y" transform="translate(1472 770)"><circle r="30"/><text y="-11">X: 651</text><text y="4.5">Y: 349</text><text y="20">Tap: 0</text></g>
<g id="r5-b9" class="y" transform="translate(1542 770)"><circle r="30"/><text y="-11">X: 509</text><text y="4.5">Y: 330</text><text y="20">Tap: 0</text></g>
<g id="r5-b10" class="y" transform="translate(1612 770)"><circle r="30"/><text y="-11">X: 509</text><text y="4.5">Y: 340</text><text y="20">Tap: 0</text></g>
<g id="r5-b11" class="y" transform="translate(1682 770)"><circle r="30"/><text y="-11">X: 564</text><text y="4.5">Y: 348</text><text y="20">Tap: 0</text></g>
<g id="r5-b12" class="y" transform="translate(1752 770)"><circle r="30"/><text y="-11">X: 594</text><text y="4.5">Y: 348</text><text y="20">Tap: 0</text></g>
<g id="r5-b13" class="y" transform="translate(1822 770)"><circle r="30"/><text y="-11">X: 594</text><text y="4.5">Y: 348</text><text y="20">Tap: 0</text></g>
<g id="r5-b14" class="y" transform="translate(1892 770)"><circle r="30"/><text y="-11">X: 604</text><text y="4.5">Y: 348</text><text y="20">Tap: 0</text></g>
<g id="r5-b15" class="y" transform="translate(1962 770)"><circle r="30"/><text y="-11">X: 604</text><text y="4.5">Y: 348</text><text y="20">Tap: 0</text></g>
<g id="r5-b16" class="y" transform="translate(2032 770)"><circle r="30"/><text y="-11">X: 614</text><text y="4.5">Y: 348</text><text y="20">Tap: 0</text></g>
<g id="r5-b17" class="y" transform="translate(2102 770)"><circle r="30"/><text y="-11">X: 643</text><text y="4.5">Y: 302</text><text y="20">Tap: 0</text></g>
<g id="r5-b18" class="y" transform="translate(2172 770)"><circle r="30"/><text y="-11">X: 643</text><text y="4.5">Y: 302</text><text y="20">Tap: 0</text></g>
<g id="r5-b19" class="y" transform="translate(2242 770)"><circle r="30"/><text y="-11">X: 663</text><text y="4.5">Y: 302</text><text y="20">Tap: 0</text></g>
<g id="r5-b20" class="y" transform="translate(2312 770)"><circle r="30"/><text y="-11">X: 500</text><text y="4.5">Y: 325</text><text y="20">Tap: 0</text></g>
<g id="r5-b21" class="y" transform="translate(2382 770)"><circle r="30"/><text y="-11">X: 510</text><text y="4.5">Y: 325</text><text y="20">Tap: 0</text></g>
<g id="r5-b22" class="y" transform="translate(2452 770)"><circle r="30"/><text y="-11">X: 520</text><text y="4.5">Y: 325</text><text y="20">Tap: 0</text></g>
<g id="r5-b23" class="y" transform="translate(2522 770)"><circle r="30"/><text y="-11">X: 645</text><text y="4.5">Y: 290</text><text y="20">Tap: 0</text></g>
<g id="r5-b24" class="y" transform="translate(2592 770)"><circle r="30"/><text y="-11">X: 645</text><text y="4.5">Y: 290</text><text y="20">Tap: 0</text></g>
<g id="r5-b25" class="w" transform="translate(2662 770)"><circle r="30"/><text y="-11">X: 655</text><text y="4.5">Y: 290</text><text y="20">Tap: 0</text></g>
<g id="r5-b26" class="y" transform="translate(2732 770)"><circle r="30"/><text y="-11">X: 645</text><text y="4.5">Y: 300</text><text y="20">Tap: 0</text></g>
<g id="r5-b27" class="y" transform="translate(2802 770)"><circle r="30"/><text y="-11">X: 645</text><text y="4.5">Y: 300</text><text y="20">Tap: 0</text></g>
<g id="r5-c0" class="y" transform="translate(2902 770)"><circle r="30"/><text y="-11">X: 651</text><text y="4.5">Y: 309</text><text y="20">Tap: 0</text></g>
<g id="r5-c1" class="y" transform="translate(2972 770)"><circle r="30"/><text y="-11">X: 651</text><text y="4.5">Y: 319</text><text y="20">Tap: 0</text></g>
<g id="r5-c2" class="y" transform="translate(3042 770)"><circle r="30"/><text y="-11">X: 651</text><text y="4.5">Y: 319</text><text y="20">Tap: 0</text></g>
<g id="r5-c3" class="y" transform="translate(3111 770)"><circle r="30"/><text y="-11">X: 651</text><text y="4.5">Y: 329</text><text y="20">Tap: 0</text></g>
<g id="r5-c4" class="y" transform="translate(3181 770)"><circle r="30"/><text y="-11">X: 651</text><text y="4.5">Y: 329</text><text y="20">Tap: 0</text></g>
<g id="r5-c5" class="y" transform="translate(3251 770)"><circle r="30"/><text y="-11">X: 651</text><text y="4.5">Y: 339</text><text y="20">Tap: 0</text></g>
<g id="r5-c6" class="y" transform="translate(3321 770)"><circle r="30"/><text y="-11">X: 651</text><text y="4.5">Y: 339</text><text y="20">Tap: 0</text></g>
<g id="r5-c7" class="y" transform="translate(3391 770)"><circle r="30"/><text y="-11">X: 509</text><text y="4.5">Y: 330</text><text y="20">Tap: 0</text></g>
<g id="r5-c8" class="y" transform="translate(3460 770)"><circle r="30"/><text y="-11">X: 509</text><text y="4.5">Y: 340</text><text y="20">Tap: 0</text></g>
<g id="r5-c9" class="y" transform="translate(3530 770)"><circle r="30"/><text y="-11">X: 548</text><text y="4.5">Y: 330</text><text y="20">Tap: 0</text></g>
<g id="r5-c10" class="y" transform="translate(3600 770)"><circle r="30"/><text y="-11">X: 548</text><text y="4.5">Y: 350</text><text y="20">Tap: 0</text></g>
<g id="r5-c11" class="y" transform="translate(3670 770)"><circle r="30"/><text y="-11">X: 616</text><text y="4.5">Y: 330</text><text y="20">Tap: 0</text></g>
<g id="r5-c12" class="y" transform="translate(3740 770)"><circle r="30"/><text y="-11">X: 616</text><text y="4.5">Y: 330</text><text y="20">Tap: 0</text></g>
<g id="r5-c13" class="y" transform="translate(3809 770)"><circle r="30"/><text y="-11">X: 616</text><text y="4.5">Y: 340</text><text y="20">Tap: 0</text></g>
<g id="r5-c14" class="y" transform="translate(3879 770)"><circle r="30"/><text y="-11">X: 616</text><text y="4.5">Y: 340</text><text y="20">Tap: 0</text></g>
<g id="r5-c15" class="y" transform="translate(3949 770)"><circle r="30"/><text y="-11">X: 643</text><text y="4.5">Y: 302</text><text y="20">Tap: 0</text></g>
<g id="r5-c16" class="y" transform="translate(4019 770)"><circle r="30"/><text y="-11">X: 643</text><text y="4.5">Y: 302</text><text y="20">Tap: 0</text></g>
<g id="r5-c17" class="y" transform="translate(4089 770)"><circle r="30"/><text y="-11">X: 663</text><text y="4.5">Y: 302</text><text y="20">Tap: 0</text></g>
<g id="r6-0" class="b" transform="translate(17 910)"><circle r="30"/><text y="4.3">Pt: 42870</text></g>
<g id="r6-1" class="b" transform="translate(116 910)"><circle r="30"/><text y="4.3">Pt: 43670</text></g>
<g id="r6-2" class="b" transform="translate(216 910)"><circle r="30"/><text y="4.3">Pt: 43670</text></g>
<g id="r6-3" class="b" transform="translate(315 910)"><circle r="30"/><text y="4.3">Pt: 43600</text></g>
<g id="r6-4" class="b" transform="translate(414 910)"><circle r="30"/><text y="4.3">Pt: 43110</text></g>
<g id="r6-5" class="b" transform="translate(513 910)"><circle r="30"/><text y="4.3">Pt: 42940</text></g>
<g id="r6-6" class="b" transform="translate(612 910)"><circle r="30"/><text y="4.3">Pt: 43330</text></g>
<g id="r6-7" class="b" transform="translate(711 910)"><circle r="30"/><text y="4.3">Pt: 44860</text></g>
<g id="r6-8" class="b" transform="translate(810 910)"><circle r="30"/><text y="4.3">Pt: 43000</text></g>
<g id="r6-9" class="b" transform="translate(909 910)"><circle r="30"/><text y="4.3">Pt: 42770</text></g>
<g id="r6-10" class="b" transform="translate(1008 910)"><circle r="30"/><text y="4.3">Pt: 43100</text></g>
<g id="r6-11" class="b" transform="translate(1107 910)"><circle r="30"/><text y="4.3">Pt: 43330</text></g>
<g id="r6-12" class="b" transform="translate(1206 910)"><circle r="30"/><text y="4.3">Pt: 43250</text></g>
<g id="r6-13" class="b" transform="translate(1305 910)"><circle r="30"/><text y="4.3">Pt: 42340</text></g>
<g id="r6-14" class="b" transform="translate(1404 910)"><circle r="30"/><text y="4.3">Pt: 43030</text></g>
<g id="r6-15" class="b" transform="translate(1503 910)"><circle r="30"/><text y="4.3">Pt: 42340</text></g>
<g id="r6-16" class="b" transform="translate(1602 910)"><circle r="30"/><text y="4.3">Pt: 43250</text></g>
<g id="r6-17" class="b" transform="translate(1701 910)"><circle r="30"/><text y="4.3">Pt: 42570</text></g>
<g id="r6-18" class="b" transform="translate(1800 910)"><circle r="30"/><text y="4.3">Pt: 43160</text></g>
<g id="r6-19" class="b" transform="translate(1899 910)"><circle r="30"/><text y="4.3">Pt: 43340</text></g>
<g id="r6-20" class="b" transform="translate(1998 910)"><circle r="30"/><text y="4.3">Pt: 42350</text></g>
<g id="r6-21" class="w" transform="translate(2097 910)"><circle r="30"/><text y="4.3">Pt: 18120</text></g>
<g id="r6-22" class="b" transform="translate(2196 910)"><circle r="30"/><text y="4.3">Pt: 42160</text></g>
<g id="r6-23" class="b" transform="translate(2295 910)"><circle r="30"/><text y="4.3">Pt: 42160</text></g>
<g id="r6-24" class="w" transform="translate(2394 910)"><circle r="30"/><text y="4.3">Pt: 18180</text></g>
<g id="r6-25" class="b" transform="translate(2493 910)"><circle r="30"/><text y="4.3">Pt: 43160</text></g>
<g id="r6-26" class="b" transform="translate(2592 910)"><circle r="30"/><text y="4.3">Pt: 43470</text></g>
<g id="r6-27" class="b" transform="translate(2692 910)"><circle r="30"/><text y="4.3">Pt: 43170</text></g>
<g id="r6-28" class="b" transform="translate(2791 910)"><circle r="30"/><text y="4.3">Pt: 43790</text></g>
<g id="r6-29" class="b" transform="translate(2890 910)"><circle r="30"/><text y="4.3">Pt: 43570</text></g>
<g id="r6-30" class="b" transform="translate(2989 910)"><circle r="30"/><text y="4.3">Pt: 43570</text></g>
<g id="r6-31" class="b" transform="translate(3088 910)"><circle r="30"/><text y="4.3">Pt: 43470</text></g>
<g id="r6-32" class="b" transform="translate(3187 910)"><circle r="30"/><text y="4.3">Pt: 43860</text></g>
<g id="r6-33" class="b" transform="translate(3286 910)"><circle r="30"/><text y="4.3">Pt: 43160</text></g>
<g id="r6-34" class="b" transform="translate(3385 910)"><circle r="30"/><text y="4.3">Pt: 43160</text></g>
<g id="r6-35" class="b" transform="translate(3484 910)"><circle r="30"/><text y="4.3">Pt: 43240</text></g>
<g id="r6-36" class="b" transform="translate(3583 910)"><circle r="30"/><text y="4.3">Pt: 43330</text></g>
<g id="r6-37" class="b" transform="translate(3682 910)"><circle r="30"/><text y="4.3">Pt: 42650</text></g>
<g id="r6-38" class="b" transform="translate(3781 910)"><circle r="30"/><text y="4.3">Pt: 43280</text></g>
<g id="r6-39" class="b" transform="translate(3880 910)"><circle r="30"/><text y="4.3">Pt: 42340</text></g>
<g id="r6-40" class="b" transform="translate(3979 910)"><circle r="30"/><text y="4.3">Pt: 43540</text></g>
<g id="r6-41" class="b" transform="translate(4078 910)"><circle r="30"/><text y="4.3">Pt: 44100</text></g>
<g id="r7-a-1" class="y" transform="translate(-28 1050)"><circle r="30"/><text y="-11">X: 564</text><text y="4.5">Y: 348</text><text y="20">Tap: 0</text></g>
<g id="r7-a0" class="y" transform="translate(59 1050)"><circle r="30"/><text y="-11">X: 574</text><text y="4.5">Y: 348</text><text y="20">Tap: 0</text></g>
<g id="r7-a1" class="y" transform="translate(146 1050)"><circle r="30"/><text y="-11">X: 574</text><text y="4.5">Y: 348</text><text y="20">Tap: 0</text></g>
<g id="r7-a2" class="y" transform="translate(233 1050)"><circle r="30"/><text y="-11">X: 643</text><text y="4.5">Y: 302</text><text y="20">Tap: 0</text></g>
<g id="r7-a3" class="y" transform="translate(320 1050)"><circle r="30"/><text y="-11">X: 643</text><text y="4.5">Y: 302</text><text y="20">Tap: 0</text></g>
<g id="r7-a4" class="y" transform="translate(407 1050)"><circle r="30"/><text y="-11">X: 653</text><text y="4.5">Y: 302</text><text y="20">Tap: 0</text></g>
<g id="r7-a5" class="y" transform="translate(495 1050)"><circle r="30"/><text y="-11">X: 663</text><text y="4.5">Y: 302</text><text y="20">Tap: 0</text></g>
<g id="r7-a6" class="y" transform="translate(582 1050)"><circle r="30"/><text y="-11">X: 645</text><text y="4.5">Y: 291</text><text y="20">Tap: 0</text></g>
<g id="r7-a7" class="y" transform="translate(669 1050)"><circle r="30"/><text y="-11">X: 645</text><text y="4.5">Y: 291</text><text y="20">Tap: 0</text></g>
<g id="r7-a8" class="w" transform="translate(756 1050)"><circle r="30"/><text y="-11">X: 655</text><text y="4.5">Y: 291</text><text y="20">Tap: 0</text></g>
<g id="r7-a9" class="y" transform="translate(843 1050)"><circle r="30"/><text y="-11">X: 645</text><text y="4.5">Y: 301</text><text y="20">Tap: 0</text></g>
<g id="r7-a10" class="y" transform="translate(930 1050)"><circle r="30"/><text y="-11">X: 645</text><text y="4.5">Y: 301</text><text y="20">Tap: 0</text></g>
<g id="r7-b0" class="y" transform="translate(1047 1050)"><circle r="30"/><text y="-11">X: 651</text><text y="4.5">Y: 309</text><text y="20">Tap: 0</text></g>
<g id="r7-b1" class="y" transform="translate(1134 1050)"><circle r="30"/><text y="-11">X: 651</text><text y="4.5">Y: 319</text><text y="20">Tap: 0</text></g>
<g id="r7-b2" class="y" transform="translate(1221 1050)"><circle r="30"/><text y="-11">X: 651</text><text y="4.5">Y: 319</text><text y="20">Tap: 0</text></g>
<g id="r7-b3" class="y" transform="translate(1308 1050)"><circle r="30"/><text y="-11">X: 651</text><text y="4.5">Y: 329</text><text y="20">Tap: 0</text></g>
<g id="r7-b4" class="y" transform="translate(1395 1050)"><circle r="30"/><text y="-11">X: 651</text><text y="4.5">Y: 329</text><text y="20">Tap: 0</text></g>
<g id="r7-b5" class="y" transform="translate(1483 1050)"><circle r="30"/><text y="-11">X: 651</text><text y="4.5">Y: 339</text><text y="20">Tap: 0</text></g>
<g id="r7-b6" class="y" transform="translate(1570 1050)"><circle r="30"/><text y="-11">X: 651</text><text y="4.5">Y: 339</text><text y="20">Tap: 0</text></g>
<g id="r7-b7" class="y" transform="translate(1657 1050)"><circle r="30"/><text y="-11">X: 651</text><text y="4.5">Y: 349</text><text y="20">Tap: 0</text></g>
<g id="r7-b8" class="y" transform="translate(1744 1050)"><circle r="30"/><text y="-11">X: 509</text><text y="4.5">Y: 330</text><text y="20">Tap: 0</text></g>
<g id="r7-b9" class="y" transform="translate(1831 1050)"><circle r="30"/><text y="-11">X: 509</text><text y="4.5">Y: 340</text><text y="20">Tap: 0</text></g>
<g id="r7-b10" class="y" transform="translate(1918 1050)"><circle r="30"/><text y="-11">X: 553</text><text y="4.5">Y: 348</text><text y="20">Tap: 0</text></g>
<g id="r7-b11" class="y" transform="translate(2005 1050)"><circle r="30"/><text y="-11">X: 563</text><text y="4.5">Y: 348</text><text y="20">Tap: 0</text></g>
<g id="r7-b12" class="y" transform="translate(2092 1050)"><circle r="30"/><text y="-11">X: 573</text><text y="4.5">Y: 348</text><text y="20">Tap: 0</text></g>
<g id="r7-b13" class="y" transform="translate(2179 1050)"><circle r="30"/><text y="-11">X: 573</text><text y="4.5">Y: 348</text><text y="20">Tap: 0</text></g>
<g id="r7-b14" class="y" transform="translate(2266 1050)"><circle r="30"/><text y="-11">X: 594</text><text y="4.5">Y: 348</text><text y="20">Tap: 0</text></g>
<g id="r7-b15" class="y" transform="translate(2354 1050)"><circle r="30"/><text y="-11">X: 594</text><text y="4.5">Y: 348</text><text y="20">Tap: 0</text></g>
<g id="r7-b16" class="y" transform="translate(2441 1050)"><circle r="30"/><text y="-11">X: 604</text><text y="4.5">Y: 348</text><text y="20">Tap: 0</text></g>
<g id="r7-b17" class="y" transform="translate(2528 1050)"><circle r="30"/><text y="-11">X: 614</text><text y="4.5">Y: 348</text><text y="20">Tap: 0</text></g>
<g id="r7-b18" class="y" transform="translate(2615 1050)"><circle r="30"/><text y="-11">X: 643</text><text y="4.5">Y: 302</text><text y="20">Tap: 0</text></g>
<g id="r7-b19" class="y" transform="translate(2702 1050)"><circle r="30"/><text y="-11">X: 643</text><text y="4.5">Y: 302</text><text y="20">Tap: 0</text></g>
<g id="r7-b20" class="y" transform="translate(2789 1050)"><circle r="30"/><text y="-11">X: 653</text><text y="4.5">Y: 302</text><text y="20">Tap: 0</text></g>
<g id="r7-b21" class="y" transform="translate(2876 1050)"><circle r="30"/><text y="-11">X: 663</text><text y="4.5">Y: 302</text><text y="20">Tap: 0</text></g>
<g id="r7-b22" class="y" transform="translate(2963 1050)"><circle r="30"/><text y="-11">X: 645</text><text y="4.5">Y: 291</text><text y="20">Tap: 0</text></g>
<g id="r7-b23" class="y" transform="translate(3050 1050)"><circle r="30"/><text y="-11">X: 645</text><text y="4.5">Y: 291</text><text y="20">Tap: 0</text></g>
<g id="r7-b24" class="w" transform="translate(3137 1050)"><circle r="30"/><text y="-11">X: 655</text><text y="4.5">Y: 291</text><text y="20">Tap: 0</text></g>
<g id="r7-b25" class="y" transform="translate(3225 1050)"><circle r="30"/><text y="-11">X: 645</text><text y="4.5">Y: 301</text><text y="20">Tap: 0</text></g>
<g id="r7-b26" class="y" transform="translate(3312 1050)"><circle r="30"/><text y="-11">X: 645</text><text y="4.5">Y: 301</text><text y="20">Tap: 0</text></g>
<g id="r7-c0" class="y" transform="translate(3427 1050)"><circle r="30"/><text y="-11">X: 651</text><text y="4.5">Y: 309</text><text y="20">Tap: 0</text></g>
<g id="r7-c1" class="y" transform="translate(3514 1050)"><circle r="30"/><text y="-11">X: 651</text><text y="4.5">Y: 319</text><text y="20">Tap: 0</text></g>
<g id="r7-c2" class="y" transform="translate(3601 1050)"><circle r="30"/><text y="-11">X: 651</text><text y="4.5">Y: 319</text><text y="20">Tap: 0</text></g>
<g id="r7-c3" class="y" transform="translate(3688 1050)"><circle r="30"/><text y="-11">X: 651</text><text y="4.5">Y: 329</text><text y="20">Tap: 0</text></g>
<g id="r7-c4" class="y" transform="translate(3775 1050)"><circle r="30"/><text y="-11">X: 651</text><text y="4.5">Y: 329</text><text y="20">Tap: 0</text></g>
<g id="r7-c5" class="y" transform="translate(3863 1050)"><circle r="30"/><text y="-11">X: 651</text><text y="4.5">Y: 339</text><text y="20">Tap: 0</text></g>
<g id="r7-c6" class="y" transform="translate(3950 1050)"><circle r="30"/><text y="-11">X: 651</text><text y="4.5">Y: 339</text><text y="20">Tap: 0</text></g>
<g id="r7-c7" class="y" transform="translate(4037 1050)"><circle r="30"/><text y="-11">X: 651</text><text y="4.5">Y: 349</text><text y="20">Tap: 0</text></g>
<g id="r7-c8" class="y" transform="translate(4124 1050)"><circle r="30"/><text y="-11">X: 509</text><text y="4.5">Y: 330</text><text y="20">Tap: 0</text></g>
<g id="r8-0" class="b" transform="translate(967 1190)"><circle r="30"/><text y="4.3">Pt: 33370</text></g>
<g id="r8-1" class="b" transform="translate(1509 1190)"><circle r="30"/><text y="4.3">Pt: 33170</text></g>
<g id="r8-2" class="b" transform="translate(2049 1190)"><circle r="30"/><text y="4.3">Pt: 33400</text></g>
<g id="r8-3" class="b" transform="translate(2589 1190)"><circle r="30"/><text y="4.3">Pt: 33400</text></g>
<g id="r8-4" class="b" transform="translate(3126 1190)"><circle r="30"/><text y="4.3">Pt: 33420</text></g>
</g>
</svg>
